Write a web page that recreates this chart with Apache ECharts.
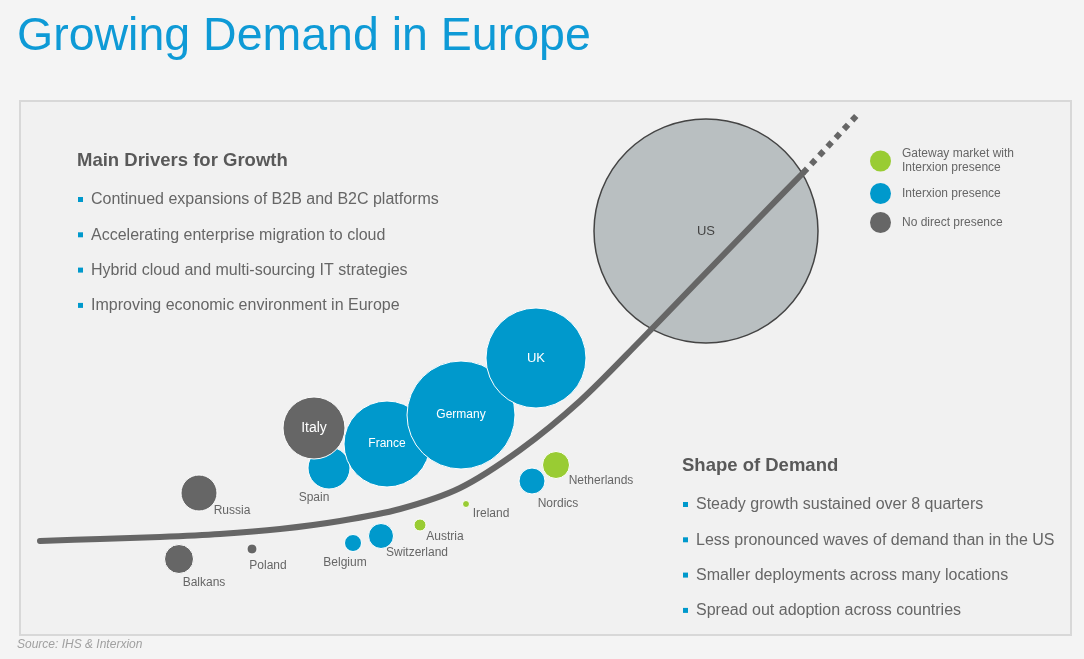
<!DOCTYPE html>
<html>
<head>
<meta charset="utf-8">
<script src="https://cdn.jsdelivr.net/npm/echarts@6/dist/echarts.min.js"></script>
<style>
html,body{margin:0;padding:0;background:#f4f4f4;}
#chart{width:1084px;height:659px;}
</style>
</head>
<body>
<div id="chart"></div>
<script>
// ---- data ----
const countries   = ['US','Spain','France','Germany','UK','Nordics','Switzerland','Belgium','Italy','Russia','Balkans','Poland','Netherlands','Austria','Ireland'];
const maturity    = [68.6, 30.9, 36.7, 44.1, 51.6, 51.2, 36.1, 33.3, 29.4, 17.9, 15.9, 23.2, 53.6, 40.0, 44.6];
const demand      = [40.4, 16.7, 19.1, 22.0, 27.7, 15.4,  9.9,  9.2, 20.7, 14.2,  7.6,  8.6, 17.0, 11.0, 13.1];
const marketSize  = [224,  42,   86,   108,  100,  26,   25,   17,   62,   36,   29,   10,   27,   12,   7];
const presence    = ['ref','interxion','interxion','interxion','interxion','interxion','interxion','interxion','none','none','none','none','gateway','gateway','gateway'];

const curveX  = [2.0, 8.0, 14.0, 20.0, 26.0, 32.0, 38.0, 44.0, 50.0, 56.0, 62.0, 68.0, 74.0, 78.3];
const curveY  = [9.4, 9.6,  9.8, 10.1, 10.6, 11.4, 12.6, 14.7, 18.5, 23.4, 29.4, 35.6, 41.8, 46.2];
const outlookX = [78.3, 84.0];
const outlookY = [46.2, 52.3];

const legendNames = {
  gateway: 'Gateway market with\nInterxion presence',
  interxion: 'Interxion presence',
  none: 'No direct presence'
};
const driversTitle = 'Main Drivers for Growth';
const drivers = ['Continued expansions of B2B and B2C platforms','Accelerating enterprise migration to cloud','Hybrid cloud and multi-sourcing IT strategies','Improving economic environment in Europe'];
const shapeTitle = 'Shape of Demand';
const shapes = ['Steady growth sustained over 8 quarters','Less pronounced waves of demand than in the US','Smaller deployments across many locations','Spread out adoption across countries'];

// ---- styling / layout ----
const FONT = "'Liberation Sans', Arial, sans-serif";
const BLUE = '#0099cc', GREEN = '#99cc33', DARK = '#666666';
const labelOffset = {
  Russia:[33,18], Balkans:[25,24], Poland:[16,17], Spain:[-15,30], Belgium:[-8,20],
  Switzerland:[36,17], Austria:[25,12], Ireland:[25,10], Nordics:[26,23], Netherlands:[45,16]
};
const insideLabel = { US:{color:'#444',fontSize:13}, UK:{color:'#fff',fontSize:13}, Germany:{color:'#fff',fontSize:12},
  France:{color:'#fff',fontSize:12}, Italy:{color:'#fff',fontSize:14} };

function items(kind){
  const out = [];
  countries.forEach((c,i)=>{
    if(presence[i]!==kind) return;
    let label;
    if(insideLabel[c]) label = {show:true, position:'inside', color:insideLabel[c].color, fontSize:insideLabel[c].fontSize, fontFamily:FONT};
    else label = {show:true, position:'inside', offset:labelOffset[c]||[0,20], color:'#666', fontSize:12, fontFamily:FONT};
    out.push({name:c, value:[maturity[i], demand[i], marketSize[i]], label});
  });
  return out;
}
function pts(xs, ys){ return xs.map((x,i)=>[x, ys[i]]); }

const bubbleBase = {
  type:'scatter', symbol:'circle', symbolSize: v => v[2], silent:true,
  label:{show:true, formatter:'{b}'}
};

const graphic = [
  {type:'rect', shape:{x:20, y:101, width:1051, height:534}, style:{fill:'#f1f1f1', stroke:'#d8d8d8', lineWidth:2}, z:-10}
];
function textBlock(title, lines, x, y0, y1, step){
  graphic.push({type:'text', style:{text:title, x:x, y:y0, font:'bold 18.5px '+FONT, fill:'#595959', textVerticalAlign:'middle'}});
  lines.forEach((t,i)=>{
    const y = y1 + i*step;
    graphic.push({type:'rect', shape:{x:x+1, y:y-3, width:5, height:5}, style:{fill:BLUE}});
    graphic.push({type:'text', style:{text:t, x:x+14, y:y, font:'16px '+FONT, fill:'#666', textVerticalAlign:'middle'}});
  });
}
textBlock(driversTitle, drivers, 77, 161, 200, 35.3);
textBlock(shapeTitle, shapes, 682, 466, 505, 35.3);
graphic.push({type:'text', style:{text:'Source: IHS & Interxion', x:17, y:645, font:'italic 12px '+FONT, fill:'#a0a0a0', textVerticalAlign:'middle'}});

const option = {
  animation:false,
  backgroundColor:'#f4f4f4',
  title:{text:'Growing Demand in Europe', left:12, top:9, textStyle:{fontSize:46.5, fontWeight:'normal', color:'#0e9ad6', fontFamily:FONT}},
  grid:{left:20, right:14, top:102, bottom:24},
  xAxis:{type:'value', min:0, max:105, show:false},
  yAxis:{type:'value', min:0, max:53.3, show:false},
  legend:{
    orient:'vertical', left:865, top:142, itemWidth:21, itemHeight:21, itemGap:8, icon:'circle',
    data:[legendNames.gateway, legendNames.interxion, legendNames.none],
    itemStyle:{borderWidth:0},
    textStyle:{fontSize:12, color:'#666', fontFamily:FONT, lineHeight:14, padding:[0,0,0,6]},
    selectedMode:false
  },
  graphic: graphic,
  series:[
    Object.assign({}, bubbleBase, {name:'US', data:items('ref'), itemStyle:{color:'#b9bfc1', borderColor:'#444', borderWidth:1.5, opacity:1}, z:1}),
    Object.assign({}, bubbleBase, {name:legendNames.interxion, data:items('interxion'), itemStyle:{color:BLUE, borderColor:'#fff', borderWidth:1, opacity:1}, z:2}),
    Object.assign({}, bubbleBase, {name:legendNames.none, data:items('none'), itemStyle:{color:DARK, borderColor:'#fff', borderWidth:1, opacity:1}, z:3}),
    Object.assign({}, bubbleBase, {name:legendNames.gateway, data:items('gateway'), itemStyle:{color:GREEN, borderColor:'#fff', borderWidth:1, opacity:1}, z:4}),
    {type:'line', name:'curve', data:pts(curveX, curveY), smooth:0.3, symbol:'none', silent:true, z:5,
      lineStyle:{color:'#666', width:6, cap:'round', join:'round'}},
    {type:'line', name:'outlook', data:pts(outlookX, outlookY), symbol:'none', silent:true, z:5,
      lineStyle:{color:'#666', width:6, type:[6,6], cap:'butt'}}
  ]
};
const chart = echarts.init(document.getElementById('chart'), null, {renderer:'canvas'});
chart.setOption(option);
</script>
</body>
</html>
